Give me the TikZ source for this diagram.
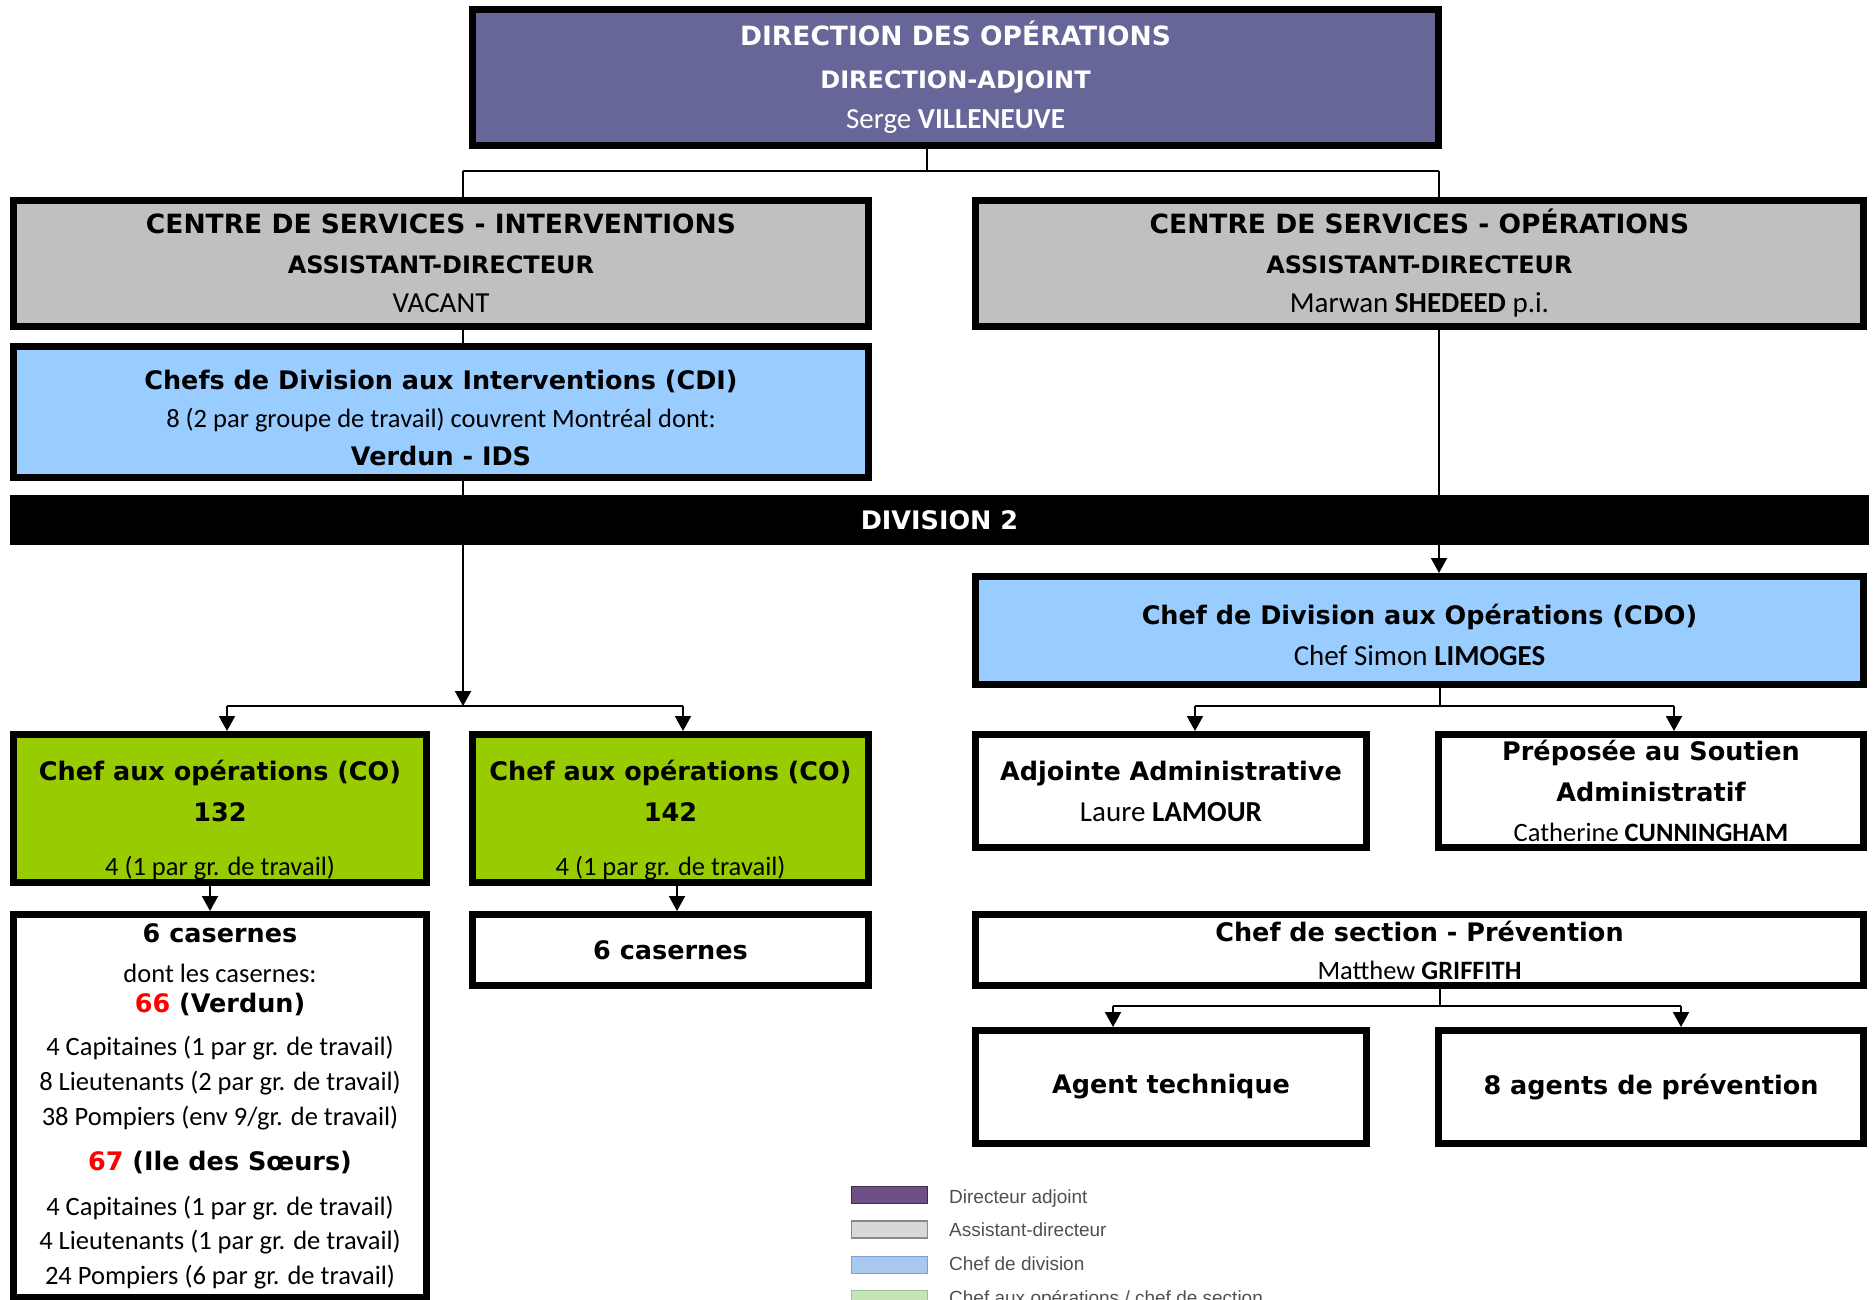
\documentclass[tikz,border=0pt]{standalone}
\usepackage{fontspec}
\setmainfont{Carlito}
\newfontfamily\dvs{DejaVu Sans}
\newfontfamily\lib{Liberation Sans}
\usetikzlibrary{arrows.meta}
\definecolor{topc}{HTML}{676699}
\definecolor{grayc}{HTML}{C0C0C0}
\definecolor{bluec}{HTML}{99CCFF}
\definecolor{greenc}{HTML}{99CC00}
\definecolor{lgtext}{HTML}{505050}
\definecolor{lgd1}{HTML}{3C2D4E}
\definecolor{lgf1}{HTML}{6E5088}
\definecolor{lgd2}{HTML}{8A8A8A}
\definecolor{lgf2}{HTML}{D8D8D8}
\definecolor{lgd3}{HTML}{7FA0D0}
\definecolor{lgf3}{HTML}{A9C8F0}
\definecolor{lgd4}{HTML}{99C299}
\definecolor{lgf4}{HTML}{C5E5B5}
\newcommand\HDa{\dvs\bfseries\fontsize{26.5}{40}\selectfont}
\newcommand\HDb{\dvs\bfseries\fontsize{24}{40}\selectfont}
\newcommand\HD{\dvs\bfseries\fontsize{25.5}{40}\selectfont}
\newcommand\RG{\normalfont\fontsize{26.5}{40}\selectfont}
\newcommand\NM{\normalfont\fontsize{29}{40}\selectfont}
\tikzset{
  box/.style={rectangle, draw=black, line width=7pt, inner sep=0pt, align=center, font=\fontsize{26.5}{40}\selectfont},
  conn/.style={line width=2pt},
  arr/.style={conn, -{Triangle[width=16pt,length=15pt]}},
  swatch/.style={rectangle, inner sep=0pt, line width=1.5pt, minimum width=76pt, minimum height=17pt},
  lgtxt/.style={anchor=base west, inner sep=0pt, text=lgtext, font=\lib\fontsize{19}{22}\selectfont}
}
\begin{document}
\begin{tikzpicture}[x=1pt,y=-1pt]
\clip (0,0) rectangle (1873,1299);
\fill[white] (0,0) rectangle (1873,1299);

% boxes
\node[box, fill=topc, text=white, minimum width=966pt, minimum height=136pt] (top) at (955.5,77.5)
  {\HDa DIRECTION DES OPÉRATIONS\\[3pt] \HDb DIRECTION-ADJOINT\\ \NM Serge \textbf{VILLENEUVE}};
\node[box, fill=grayc, minimum width=855pt, minimum height=126pt] (csi) at (441,263.5)
  {\HDa CENTRE DE SERVICES - INTERVENTIONS\\ \HDb ASSISTANT-DIRECTEUR\\[-1pt] \NM VACANT};
\node[box, fill=grayc, minimum width=888pt, minimum height=126pt] (cso) at (1419.5,263.5)
  {\HDa CENTRE DE SERVICES - OPÉRATIONS\\ \HDb ASSISTANT-DIRECTEUR\\[-1pt] \NM Marwan \textbf{SHEDEED} p.i.};
\node[box, fill=bluec, minimum width=855pt, minimum height=131pt] (cdi) at (441,412)
  {\rule{0pt}{32pt}\HD Chefs de Division aux Interventions (CDI)\\[-2pt] \RG 8 (2 par groupe de travail) couvrent Montréal dont:\\[-2pt] \HD Verdun - IDS};
\node[rectangle, fill=black, text=white, inner sep=0pt, minimum width=1859pt, minimum height=50pt] (div) at (939.5,520)
  {\HD DIVISION 2};
\node[box, fill=bluec, minimum width=888pt, minimum height=108pt] (cdo) at (1419.5,630.5)
  {\rule{0pt}{29pt}\HD Chef de Division aux Opérations (CDO)\\[1pt] \NM Chef Simon \textbf{LIMOGES}};
\node[box, fill=greenc, minimum width=413pt, minimum height=148pt] (co1) at (220,808.5)
  {\rule{0pt}{44pt}\HD Chef aux opérations (CO)\\[1pt] \HD 132\\[14pt] \RG 4 (1 par gr. de travail)};
\node[box, fill=greenc, minimum width=396pt, minimum height=148pt] (co2) at (670.5,808.5)
  {\rule{0pt}{44pt}\HD Chef aux opérations (CO)\\[1pt] \HD 142\\[14pt] \RG 4 (1 par gr. de travail)};
\node[box, fill=white, minimum width=413pt, minimum height=383pt] (cas1) at (220,1106)
  {\HD 6 casernes\\[0pt]
   \RG dont les casernes:\\[-10pt]
   \HD \textcolor{red}{66} (Verdun)\\[3pt]
   \RG 4 Capitaines (1 par gr. de travail)\\[-5pt]
   \RG 8 Lieutenants (2 par gr. de travail)\\[-5pt]
   \RG 38 Pompiers (env 9/gr. de travail)\\[5pt]
   \HD \textcolor{red}{67} (Ile des Sœurs)\\[5pt]
   \RG 4 Capitaines (1 par gr. de travail)\\[-6pt]
   \RG 4 Lieutenants (1 par gr. de travail)\\[-5pt]
   \RG 24 Pompiers (6 par gr. de travail)};
\node[box, fill=white, minimum width=396pt, minimum height=71pt] (cas2) at (670.5,950)
  {\HD 6 casernes};
\node[box, fill=white, minimum width=391pt, minimum height=113pt] (adj) at (1171,791)
  {\HD Adjointe Administrative\\[1pt] \NM Laure \textbf{LAMOUR}};
\node[box, fill=white, minimum width=425pt, minimum height=113pt] (prep) at (1651,791)
  {\HD Préposée au Soutien\\[1pt] \HD Administratif\\ \RG Catherine \textbf{CUNNINGHAM}};
\node[box, fill=white, minimum width=888pt, minimum height=71pt] (prev) at (1419.5,950)
  {\HD Chef de section - Prévention\\[-2pt] \RG Matthew \textbf{GRIFFITH}};
\node[box, fill=white, minimum width=391pt, minimum height=113pt] (agt) at (1171,1087)
  {\HD Agent technique};
\node[box, fill=white, minimum width=425pt, minimum height=113pt] (agp) at (1651,1087)
  {\HD 8 agents de prévention};

% junction coordinates
\coordinate (tb) at (927,171);
\coordinate (j1l) at (463,171);
\coordinate (j1r) at (1439,171);
\coordinate (j2) at (463,706);
\coordinate (j2l) at (227,706);
\coordinate (j2r) at (683,706);
\coordinate (x1) at (210,0);
\coordinate (x2) at (677,0);
\coordinate (j3) at (1440,706);
\coordinate (j3l) at (1195,706);
\coordinate (j3r) at (1674,706);
\coordinate (j4) at (1440,1006);
\coordinate (j4l) at (1113,1006);
\coordinate (j4r) at (1681,1006);

% connectors
\draw[conn] (top.south -| tb) -- (tb);
\draw[conn] (j1l) -- (j1r);
\draw[conn] (j1l) -- (csi.north -| j1l);
\draw[conn] (j1r) -- (cso.north -| j1r);
\draw[conn] (csi.south -| j1l) -- (cdi.north -| j1l);
\draw[arr] (cdi.south -| j2) -- (j2);
\draw[conn] (j2l) -- (j2r);
\draw[arr] (j2l) -- (co1.north -| j2l);
\draw[arr] (j2r) -- (co2.north -| j2r);
\draw[arr] (co1.south -| x1) -- (cas1.north -| x1);
\draw[arr] (co2.south -| x2) -- (cas2.north -| x2);
\draw[arr] (cso.south -| j1r) -- (cdo.north -| j1r);
\draw[conn] (cdo.south -| j3) -- (j3);
\draw[conn] (j3l) -- (j3r);
\draw[arr] (j3l) -- (adj.north -| j3l);
\draw[arr] (j3r) -- (prep.north -| j3r);
\draw[conn] (prev.south -| j4) -- (j4);
\draw[conn] (j4l) -- (j4r);
\draw[arr] (j4l) -- (agt.north -| j4l);
\draw[arr] (j4r) -- (agp.north -| j4r);

% legend
\node[swatch, draw=lgd1, fill=lgf1] (sw1) at (889.5,1195) {};
\node[swatch, draw=lgd2, fill=lgf2] (sw2) at (889.5,1229.5) {};
\node[swatch, draw=lgd3, fill=lgf3] (sw3) at (889.5,1265) {};
\node[swatch, draw=lgd4, fill=lgf4] (sw4) at (889.5,1299) {};
\node[lgtxt] (lg1) at (949,1203) {Directeur adjoint};
\node[lgtxt] (lg2) at (949,1236) {Assistant-directeur};
\node[lgtxt] (lg3) at (949,1270) {Chef de division};
\node[lgtxt] (lg4) at (949,1304) {Chef aux opérations / chef de section};
\end{tikzpicture}
\end{document}
